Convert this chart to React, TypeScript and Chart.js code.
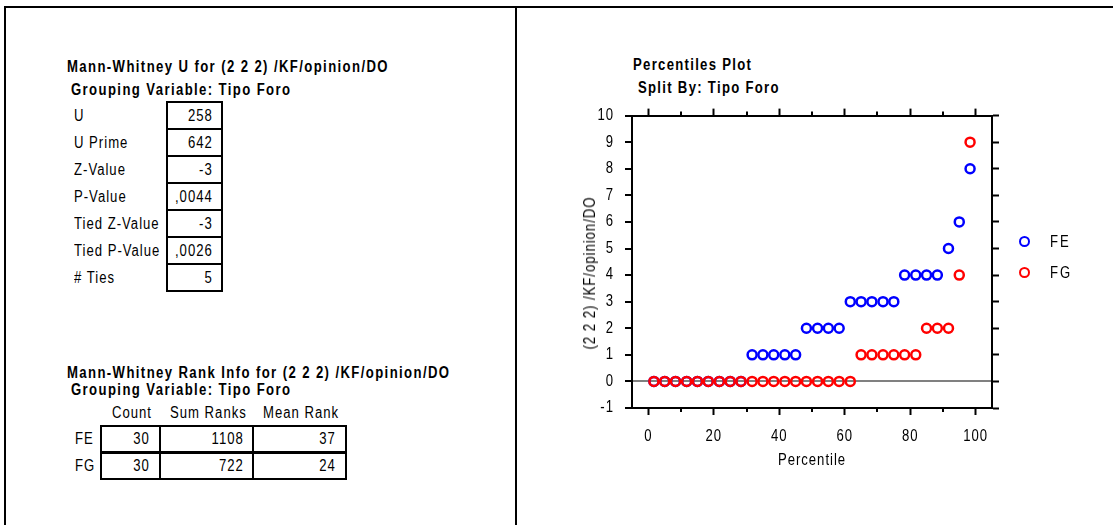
import React, { useEffect, useRef } from 'react';
import { Chart, registerables } from 'chart.js';

Chart.register(...registerables);

const FONT = "'Liberation Sans', Arial, sans-serif";
// Horizontal squeeze that gives the regular face a narrow look
const NARROW = 0.82;

// Percentile rank of each of the 30 sorted observations per group
const PERCENTILES = [
  1.7, 5.0, 8.3, 11.7, 15.0, 18.3, 21.7, 25.0, 28.3, 31.7,
  35.0, 38.3, 41.7, 45.0, 48.3, 51.7, 55.0, 58.3, 61.7, 65.0,
  68.3, 71.7, 75.0, 78.3, 81.7, 85.0, 88.3, 91.7, 95.0, 98.3,
];
const FE_VALUES = [0, 0, 0, 0, 0, 0, 0, 0, 0, 1, 1, 1, 1, 1, 2, 2, 2, 2, 3, 3, 3, 3, 3, 4, 4, 4, 4, 5, 6, 8];
const FG_VALUES = [0, 0, 0, 0, 0, 0, 0, 0, 0, 0, 0, 0, 0, 0, 0, 0, 0, 0, 0, 1, 1, 1, 1, 1, 1, 2, 2, 2, 4, 9];
const GROUPS = ['FE', 'FG'];
const GROUP_COLORS = ['#0000ff', '#ff0000'];

const X_TICKS = [0, 20, 40, 60, 80, 100];
const X_MINOR_TICKS = [10, 30, 50, 70, 90];
const Y_TICKS = [-1, 0, 1, 2, 3, 4, 5, 6, 7, 8, 9, 10];

const U_LABELS = ['U', 'U Prime', 'Z-Value', 'P-Value', 'Tied Z-Value', 'Tied P-Value', '# Ties'];
const U_VALUES = ['258', '642', '-3', ',0044', '-3', ',0026', '5'];

const RANK_HEADERS = ['Count', 'Sum Ranks', 'Mean Rank'];
const RANK_COUNT = ['30', '30'];
const RANK_SUM = ['1108', '722'];
const RANK_MEAN = ['37', '24'];

type TextProps = {
  x: number;
  yc: number;
  size?: number;
  bold?: boolean;
  ls?: number;
  right?: boolean;
  children: React.ReactNode;
};

// Text placed by its left (or right) edge and the vertical centre of its capitals
function Txt({ x, yc, size = 16, bold = false, ls = 1, right = false, children }: TextProps) {
  const cssLs = ls / NARROW;
  const style: React.CSSProperties = {
    position: 'absolute',
    top: yc - 0.4885 * size,
    fontFamily: FONT,
    fontSize: size,
    lineHeight: `${size}px`,
    fontWeight: bold ? 700 : 400,
    letterSpacing: cssLs,
    whiteSpace: 'nowrap',
    color: '#000',
    transform: `scaleX(${NARROW})`,
  };
  if (right) {
    style.left = x - 300 + cssLs;
    style.width = 300;
    style.textAlign = 'right';
    style.transformOrigin = `${300 - cssLs}px 50%`;
  } else {
    style.left = x;
    style.transformOrigin = '0 50%';
  }
  return <div style={style}>{children}</div>;
}

function Line({ x, y, w, h }: { x: number; y: number; w: number; h: number }) {
  return <div style={{ position: 'absolute', left: x, top: y, width: w, height: h, background: '#000' }} />;
}

function Box({ x, y, w, h }: { x: number; y: number; w: number; h: number }) {
  return (
    <div
      style={{
        position: 'absolute', left: x, top: y, width: w, height: h,
        border: '2px solid #000', boxSizing: 'border-box',
      }}
    />
  );
}

// Shorter ticks halfway between the labelled percentiles, top and bottom
const minorTicksPlugin = {
  id: 'minorTicks',
  afterDraw(chart: any) {
    const { ctx, chartArea, scales } = chart;
    const xs = scales.x;
    ctx.save();
    ctx.strokeStyle = '#000';
    ctx.lineWidth = 2;
    X_MINOR_TICKS.forEach((v) => {
      const px = Math.round(xs.getPixelForValue(v));
      ctx.beginPath();
      ctx.moveTo(px, chartArea.bottom);
      ctx.lineTo(px, chartArea.bottom + 4);
      ctx.moveTo(px, chartArea.top);
      ctx.lineTo(px, chartArea.top - 4);
      ctx.stroke();
    });
    ctx.restore();
  },
};

// Narrow, slightly tracked canvas lettering for tick labels and axis title
const narrowTextPlugin = {
  id: 'narrowText',
  beforeInit(chart: any) {
    const ctx = chart.ctx;
    const fill = ctx.fillText.bind(ctx);
    ctx.fillText = (text: string, x: number, y: number, maxWidth?: number) => {
      ctx.save();
      ctx.translate(x, y);
      ctx.scale(NARROW, 1);
      ctx.letterSpacing = '1.2px';
      if (maxWidth === undefined) fill(text, 0, 0);
      else fill(text, 0, 0, maxWidth / NARROW);
      ctx.restore();
    };
  },
};

function PercentilesChart() {
  const ref = useRef<HTMLCanvasElement | null>(null);

  useEffect(() => {
    if (!ref.current) return;
    const tickFont = { family: FONT, size: 16 };
    const setX = (s: any) => { s.ticks = X_TICKS.map((v) => ({ value: v })); };
    const setY = (s: any) => { s.ticks = Y_TICKS.map((v) => ({ value: v })); };
    const border = { color: '#000', width: 2 };
    const chart = new Chart(ref.current, {
      type: 'scatter',
      data: {
        datasets: [
          {
            label: GROUPS[0],
            data: PERCENTILES.map((x, i) => ({ x, y: FE_VALUES[i] })),
            borderColor: GROUP_COLORS[0],
            backgroundColor: 'rgba(0,0,0,0)',
            pointRadius: 4.5,
            pointHoverRadius: 4.5,
            pointBorderWidth: 2.5,
            order: 1,
          },
          {
            label: GROUPS[1],
            data: PERCENTILES.map((x, i) => ({ x, y: FG_VALUES[i] })),
            borderColor: GROUP_COLORS[1],
            backgroundColor: 'rgba(0,0,0,0)',
            pointRadius: 4.5,
            pointHoverRadius: 4.5,
            pointBorderWidth: 2.5,
            order: 0,
          },
        ],
      },
      options: {
        animation: false,
        responsive: false,
        events: [],
        layout: { padding: 0, autoPadding: false },
        plugins: { legend: { display: false }, tooltip: { enabled: false } },
        scales: {
          x: {
            type: 'linear',
            position: 'bottom',
            min: -5,
            max: 105,
            afterBuildTicks: setX,
            afterFit: (s: any) => { s.height = 77; },
            border,
            grid: { drawOnChartArea: false, tickLength: 7, tickWidth: 2, tickColor: '#000' },
            ticks: { font: tickFont, color: '#000', padding: 12, maxRotation: 0, autoSkip: false },
            title: { display: true, text: 'Percentile', font: tickFont, color: '#000', padding: { top: 0, bottom: 15 } },
          },
          xTop: {
            type: 'linear',
            position: 'top',
            min: -5,
            max: 105,
            afterBuildTicks: setX,
            afterFit: (s: any) => { s.height = 17; },
            border,
            grid: { drawOnChartArea: false, tickLength: 7, tickWidth: 2, tickColor: '#000' },
            ticks: { display: false },
          },
          y: {
            type: 'linear',
            position: 'left',
            min: -1,
            max: 10,
            afterBuildTicks: setY,
            afterFit: (s: any) => { s.width = 92; },
            border,
            grid: {
              color: (c: any) => (c.tick && c.tick.value === 0 ? '#808080' : 'rgba(0,0,0,0)'),
              lineWidth: 2,
              tickLength: 7,
              tickWidth: 2,
              tickColor: '#000',
            },
            ticks: { font: tickFont, color: '#000', padding: 11, autoSkip: false },
          },
          yRight: {
            type: 'linear',
            position: 'right',
            min: -1,
            max: 10,
            afterBuildTicks: setY,
            afterFit: (s: any) => { s.width = 28; },
            border,
            grid: { drawOnChartArea: false, tickLength: 7, tickWidth: 2, tickColor: '#000' },
            ticks: { display: false },
          },
        },
      } as any,
      plugins: [narrowTextPlugin, minorTicksPlugin],
    });
    return () => chart.destroy();
  }, []);

  return (
    <div style={{ position: 'absolute', left: 540, top: 95, width: 480, height: 390 }}>
      <canvas ref={ref} width={480} height={390} style={{ width: 480, height: 390, display: 'block' }} />
    </div>
  );
}

export default function App() {
  const uTop = 102.3;
  const uRow = 26.95;
  const rTop = 425.7;
  const rRow = 26.8;
  const rCols = [100.7, 160, 253.3, 346];
  const headerX = [111.7, 170, 263];
  const rankCells = [RANK_COUNT, RANK_SUM, RANK_MEAN];

  return (
    <div style={{ position: 'fixed', left: 0, top: 0, width: 1113, height: 525, background: '#fff', overflow: 'hidden' }}>
      {/* outer frame and divider */}
      <Line x={4} y={6} w={1109} h={2} />
      <Line x={4} y={6} w={2} h={519} />
      <Line x={514.5} y={6} w={2} h={519} />

      {/* Mann-Whitney U table */}
      <Txt x={66.7} yc={66.7} bold ls={1.4}>Mann-Whitney U for (2 2 2) /KF/opinion/DO</Txt>
      <Txt x={71} yc={90} bold ls={1.4}>Grouping Variable: Tipo Foro</Txt>
      {U_LABELS.map((label, i) => (
        <React.Fragment key={label}>
          <Box x={165.5} y={uTop + i * uRow - 1} w={57} h={uRow + 2} />
          <Txt x={74} yc={uTop + (i + 0.5) * uRow}>{label}</Txt>
          <Txt x={212} yc={uTop + (i + 0.5) * uRow} right>{U_VALUES[i]}</Txt>
        </React.Fragment>
      ))}

      {/* Rank info table */}
      <Txt x={66.7} yc={373.3} bold ls={1.4}>Mann-Whitney Rank Info for (2 2 2) /KF/opinion/DO</Txt>
      <Txt x={71} yc={390} bold ls={1.4}>Grouping Variable: Tipo Foro</Txt>
      {RANK_HEADERS.map((h, i) => (
        <Txt key={h} x={headerX[i]} yc={412.7}>{h}</Txt>
      ))}
      {GROUPS.map((g, r) => (
        <React.Fragment key={g}>
          <Txt x={75} yc={rTop + (r + 0.5) * rRow}>{g}</Txt>
          {rankCells.map((col, c) => (
            <React.Fragment key={c}>
              <Box x={rCols[c] - 1} y={rTop + r * rRow - 1} w={rCols[c + 1] - rCols[c] + 2} h={rRow + 2} />
              <Txt x={rCols[c + 1] - 11} yc={rTop + (r + 0.5) * rRow} right>{col[r]}</Txt>
            </React.Fragment>
          ))}
        </React.Fragment>
      ))}

      {/* Percentiles plot */}
      <Txt x={633.3} yc={65} bold ls={1.3}>Percentiles Plot</Txt>
      <Txt x={638.3} yc={87.7} bold ls={1.3}>Split By: Tipo Foro</Txt>
      <PercentilesChart />
      <div
        style={{
          position: 'absolute', left: 590, top: 273,
          transform: `translate(-50%, -50%) rotate(-90deg) scaleX(${NARROW})`,
          fontFamily: FONT, fontSize: 16, lineHeight: '16px', letterSpacing: 1.2,
          whiteSpace: 'nowrap', color: '#000',
        }}
      >
        (2 2 2) /KF/opinion/DO
      </div>

      {/* legend */}
      {GROUPS.map((g, i) => {
        const cy = i === 0 ? 241.7 : 272.7;
        return (
          <React.Fragment key={g}>
            <div
              style={{
                position: 'absolute', left: 1024.3 - 5.75, top: cy - 5.75, width: 11.5, height: 11.5,
                border: `2.5px solid ${GROUP_COLORS[i]}`, borderRadius: '50%', boxSizing: 'border-box',
              }}
            />
            <Txt x={1050} yc={cy} ls={2}>{g}</Txt>
          </React.Fragment>
        );
      })}
    </div>
  );
}
